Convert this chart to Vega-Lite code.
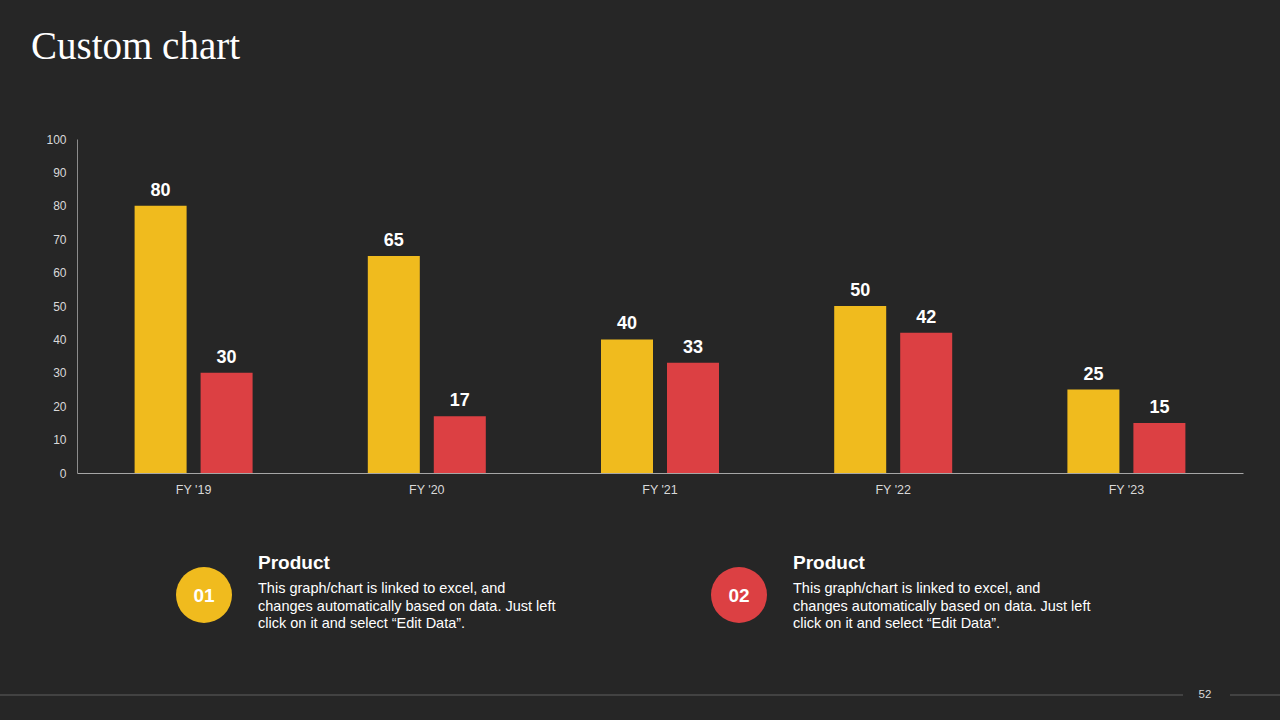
{
  "$schema": "https://vega.github.io/schema/vega-lite/v6.json",
  "width": 1166,
  "height": 334,
  "autosize": {"type": "none"},
  "padding": {"left": 77, "top": 139, "right": 37, "bottom": 247},
  "background": "#262626",
  "title": {
    "text": "Custom chart",
    "anchor": "start",
    "frame": "group",
    "dx": -46,
    "offset": 35,
    "baseline": "alphabetic",
    "font": "Liberation Serif",
    "fontSize": 39,
    "fontWeight": "normal",
    "color": "#ffffff"
  },
  "config": {
    "view": {"stroke": null},
    "axis": {
      "labelFont": "Liberation Sans",
      "labelColor": "#d9d9d9",
      "domainColor": "#8c8c8c",
      "domainWidth": 1,
      "ticks": false,
      "grid": false,
      "title": null
    }
  },
  "datasets": {
    "sales": [
      {"year": "FY '19", "series": "Series 1", "value": 80},
      {"year": "FY '19", "series": "Series 2", "value": 30},
      {"year": "FY '20", "series": "Series 1", "value": 65},
      {"year": "FY '20", "series": "Series 2", "value": 17},
      {"year": "FY '21", "series": "Series 1", "value": 40},
      {"year": "FY '21", "series": "Series 2", "value": 33},
      {"year": "FY '22", "series": "Series 1", "value": 50},
      {"year": "FY '22", "series": "Series 2", "value": 42},
      {"year": "FY '23", "series": "Series 1", "value": 25},
      {"year": "FY '23", "series": "Series 2", "value": 15}
    ],
    "notes": [
      {
        "id": "01",
        "series": "Series 1",
        "heading": "Product",
        "body": ["This graph/chart is linked to excel, and", "changes automatically based on data. Just left", "click on it and select “Edit Data”."]
      },
      {
        "id": "02",
        "series": "Series 2",
        "heading": "Product",
        "body": ["This graph/chart is linked to excel, and", "changes automatically based on data. Just left", "click on it and select “Edit Data”."]
      }
    ],
    "footer": [{"page": "52"}]
  },
  "layer": [
    {
      "data": {"name": "sales"},
      "encoding": {
        "x": {
          "field": "year",
          "type": "nominal",
          "sort": null,
          "scale": {"paddingInner": 0.494, "paddingOuter": 0.247},
          "axis": {"labelAngle": 0, "labelFontSize": 12.5, "labelPadding": 10, "domainColor": "#a6a6a6"}
        },
        "xOffset": {
          "field": "series",
          "type": "nominal",
          "scale": {"paddingInner": 0.212, "paddingOuter": 0}
        },
        "y": {
          "field": "value",
          "type": "quantitative",
          "scale": {"domain": [0, 100]},
          "axis": {"values": [0, 10, 20, 30, 40, 50, 60, 70, 80, 90, 100], "labelFontSize": 12, "labelPadding": 11}
        }
      },
      "layer": [
        {
          "mark": {"type": "bar"},
          "encoding": {
            "color": {
              "field": "series",
              "type": "nominal",
              "scale": {"domain": ["Series 1", "Series 2"], "range": ["#f0bb1e", "#dc4043"]},
              "legend": null
            }
          }
        },
        {
          "mark": {
            "type": "text",
            "baseline": "alphabetic",
            "dy": -10,
            "font": "Liberation Sans",
            "fontSize": 18,
            "fontWeight": "bold",
            "color": "#ffffff"
          },
          "encoding": {"text": {"field": "value", "type": "quantitative"}}
        }
      ]
    },
    {
      "data": {"name": "notes"},
      "encoding": {
        "x": {
          "field": "id",
          "type": "nominal",
          "scale": {"type": "point", "range": [127, 662], "padding": 0},
          "axis": null
        },
        "y": {"value": 456}
      },
      "layer": [
        {
          "mark": {"type": "circle", "size": 3136, "opacity": 1},
          "encoding": {
            "color": {
              "field": "series",
              "type": "nominal",
              "scale": {"domain": ["Series 1", "Series 2"], "range": ["#f0bb1e", "#dc4043"]},
              "legend": null
            }
          }
        },
        {
          "mark": {
            "type": "text",
            "align": "center",
            "baseline": "middle",
            "dy": 1,
            "font": "Liberation Sans",
            "fontSize": 19,
            "fontWeight": "bold",
            "color": "#ffffff"
          },
          "encoding": {"text": {"field": "id"}}
        },
        {
          "mark": {
            "type": "text",
            "align": "left",
            "baseline": "alphabetic",
            "dx": 54,
            "dy": -26,
            "font": "Liberation Sans",
            "fontSize": 19,
            "fontWeight": "bold",
            "color": "#ffffff"
          },
          "encoding": {"text": {"field": "heading"}}
        },
        {
          "mark": {
            "type": "text",
            "align": "left",
            "baseline": "alphabetic",
            "dx": 54,
            "dy": -2,
            "lineHeight": 17.5,
            "font": "Liberation Sans",
            "fontSize": 14.5,
            "color": "#ffffff"
          },
          "encoding": {"text": {"field": "body"}}
        }
      ]
    },
    {
      "data": {"name": "footer"},
      "layer": [
        {
          "mark": {"type": "rule", "color": "#4d4d4d", "strokeWidth": 1.5},
          "encoding": {"x": {"value": -77}, "x2": {"value": 1106}, "y": {"value": 556}}
        },
        {
          "mark": {"type": "rule", "color": "#4d4d4d", "strokeWidth": 1.5},
          "encoding": {"x": {"value": 1153}, "x2": {"value": 1203}, "y": {"value": 556}}
        },
        {
          "mark": {
            "type": "text",
            "align": "center",
            "baseline": "middle",
            "font": "Liberation Sans",
            "fontSize": 11.5,
            "color": "#d9d9d9"
          },
          "encoding": {"x": {"value": 1128}, "y": {"value": 556}, "text": {"field": "page"}}
        }
      ]
    }
  ],
  "resolve": {"scale": {"x": "independent"}}
}
